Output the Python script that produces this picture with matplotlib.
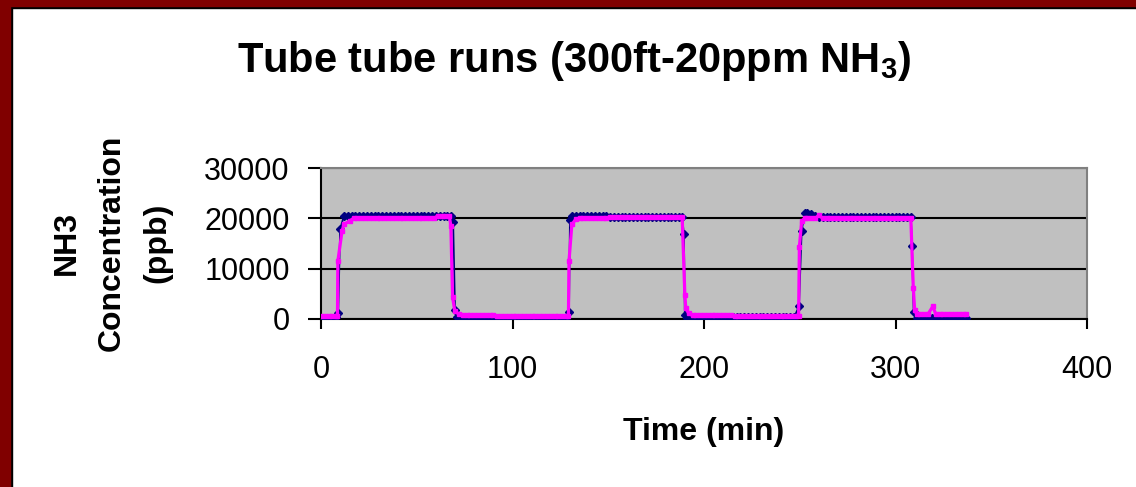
import matplotlib
matplotlib.use('Agg')
import matplotlib.pyplot as plt
from matplotlib.patches import Rectangle

plt.rcParams['font.family'] = ['Liberation Sans', 'DejaVu Sans']
plt.rcParams['mathtext.fontset'] = 'custom'
plt.rcParams['mathtext.rm'] = 'Liberation Sans'
plt.rcParams['mathtext.bf'] = 'Liberation Sans:bold'
plt.rcParams['mathtext.default'] = 'bf'

# --- tube run 1 (0-128 min) ---
t1_navy = [0, 2, 4, 6, 8, 9, 10,
           12, 14, 16, 18, 20, 22, 24, 26, 28, 30, 32, 34, 36, 38, 40,
           42, 44, 46, 48, 50, 52, 54, 56, 58, 60, 62, 64, 66, 68,
           69, 70, 71,
           72, 74, 76, 78, 80, 82, 84, 86, 88,
           90, 92, 94, 96, 98, 100, 102, 104, 106, 108,
           110, 112, 114, 116, 118, 120, 122, 124, 126, 128]
c1_navy = [200, 200, 200, 200, 300, 1200, 17900,
           20500, 20500, 20400, 20500, 20500, 20400, 20500, 20500, 20500, 20400, 20500, 20500, 20500, 20400, 20500,
           20500, 20500, 20400, 20500, 20500, 20500, 20400, 20500, 20500, 20500, 20400, 20500, 20500, 20500,
           19300, 1700, 300,
           100, 0, 100, 0, 100, 0, 100, 100, 100,
           200, 200, 200, 200, 200, 200, 200, 200, 200, 200,
           200, 200, 200, 200, 200, 200, 200, 200, 200, 200]

t1_pink = [0, 2, 4, 6, 8, 8.6, 8.8, 11, 12, 15, 17,
           19, 21, 23, 25, 27, 29, 31, 33, 35, 37, 39,
           41, 43, 45, 47, 49, 51, 53, 55, 57, 59,
           61, 63, 65, 67,
           67.8, 68.7, 69.9, 72,
           74, 76, 78, 80, 82, 84, 86, 88, 90,
           92, 94, 96, 98, 100, 102, 104, 106, 108, 110,
           112, 114, 116, 118, 120, 122, 124, 126, 128]
c1_pink = [500, 500, 500, 500, 500, 600, 11500, 17500, 18800, 19500, 20000,
           20000, 20000, 20000, 20000, 20000, 20000, 20000, 20000, 20000, 20000, 20000,
           20000, 20000, 20000, 20000, 20000, 20000, 20000, 20000, 20000, 20000,
           20500, 20500, 20500, 20500,
           18500, 4400, 1500, 1000,
           800, 800, 800, 800, 800, 800, 800, 800, 800,
           500, 500, 500, 500, 500, 500, 500, 500, 500, 500,
           500, 500, 500, 500, 500, 500, 500, 500, 500]

# --- tube run 2 (129-248 min) ---
t2_navy = [129.5, 130, 131,
           133, 135, 137, 139, 141, 143, 145, 147, 149,
           151, 153, 155, 157, 159, 161, 163, 165, 167, 169,
           171, 173, 175, 177, 179, 181, 183, 185, 187,
           188.6, 189.5, 190, 191,
           193, 195, 197, 199, 201, 203, 205, 207, 209, 211, 213,
           215, 217, 219, 221, 223, 225, 227, 229, 231,
           233, 235, 237, 239, 241, 243, 245, 247]
c2_navy = [1300, 19700, 20500,
           20500, 20500, 20400, 20500, 20500, 20500, 20400, 20500, 20400,
           20200, 20200, 20300, 20200, 20200, 20200, 20300, 20200, 20200, 20200,
           20300, 20200, 20200, 20200, 20300, 20200, 20200, 20200, 20300,
           20300, 16800, 700, 100,
           0, 100, 0, 100, 0, 100, 0, 100, 0, 100, 0,
           300, 300, 300, 300, 300, 300, 300, 300, 300,
           300, 300, 300, 300, 300, 300, 300, 300]

t2_pink = [129.2, 129.5, 131, 133,
           135, 137, 139, 141, 143, 145, 147, 149,
           151, 153, 155, 157, 159, 161, 163, 165, 167, 169,
           171, 173, 175, 177, 179, 181, 183, 185, 187,
           188.6, 190, 190.5, 192,
           194, 196, 198, 200, 202, 204, 206, 208, 210, 212, 214,
           216, 218, 220, 222, 224, 226, 228, 230, 232,
           234, 236, 238, 240, 242, 244, 246, 248]
c2_pink = [500, 11500, 18800, 19800,
           20000, 20000, 20000, 20000, 20000, 20000, 20000, 20000,
           20300, 20300, 20300, 20300, 20300, 20300, 20300, 20300, 20300, 20300,
           20300, 20300, 20300, 20300, 20300, 20300, 20300, 20300, 20300,
           20200, 4800, 2100, 1100,
           700, 700, 700, 700, 700, 700, 700, 700, 700, 700, 700,
           500, 500, 500, 500, 500, 500, 500, 500, 500,
           500, 500, 500, 500, 500, 500, 500, 500]

# --- tube run 3 (249-338 min) ---
t3_navy = [249.6, 251, 252.5, 254, 256, 258,
           260, 262, 264, 266, 268, 270, 272, 274, 276, 278, 280, 282, 284,
           286, 288, 290, 292, 294, 296, 298, 300, 302, 304, 306, 308,
           308.6, 309.5, 311,
           313, 315, 317, 319, 321, 323, 325, 327, 329, 331, 333, 335, 337]
c3_navy = [2500, 17500, 21000, 21100, 20900, 20400,
           20300, 20300, 20200, 20300, 20300, 20300, 20200, 20300, 20300, 20300, 20200, 20300, 20300,
           20300, 20200, 20300, 20300, 20300, 20200, 20300, 20300, 20300, 20200, 20300, 20300,
           14600, 1300, 200,
           100, 0, 100, 100, 0, 100, 100, 0, 100, 100, 0, 100, 100]

t3_pink = [249.4, 249.8, 251, 252.7, 254, 256, 258, 260, 262,
           264, 266, 268, 270, 272, 274, 276, 278, 280, 282, 284,
           286, 288, 290, 292, 294, 296, 298, 300, 302, 304, 306, 308,
           309.3, 310, 311, 313, 315, 317, 319.5, 321,
           323, 325, 327, 329, 331, 333, 335, 337]
c3_pink = [500, 14300, 19500, 20000, 20000, 20000, 20000, 20600, 20000,
           20000, 20000, 20000, 20000, 20000, 20000, 20000, 20000, 20000, 20000, 20000,
           20000, 20000, 20000, 20000, 20000, 20000, 20000, 20000, 20000, 20000, 20000, 20000,
           6100, 1800, 1000, 1000, 1000, 1000, 2500, 1000,
           1000, 1000, 1000, 1000, 1000, 1000, 1000, 1000]

time_navy = t1_navy + t2_navy + t3_navy
conc_navy = c1_navy + c2_navy + c3_navy
time_pink = t1_pink + t2_pink + t3_pink
conc_pink = c1_pink + c2_pink + c3_pink

x_ticks = [0, 100, 200, 300, 400]
y_ticks = [0, 10000, 20000, 30000]

W, H = 1136, 487
fig = plt.figure(figsize=(W / 100, H / 100), dpi=100)
fig.patch.set_facecolor('white')

# dark red frame on the left and top edges, with a thin black inner line
fig.patches.append(Rectangle((0, 0), 12 / W, 1, transform=fig.transFigure, color='black', zorder=0))
fig.patches.append(Rectangle((0, 1 - 8 / H), 1, 8 / H, transform=fig.transFigure, color='black', zorder=0))
fig.patches.append(Rectangle((0, 0), 10 / W, 1, transform=fig.transFigure, color='#800000', zorder=1))
fig.patches.append(Rectangle((0, 1 - 6 / H), 1, 6 / H, transform=fig.transFigure, color='#800000', zorder=1))

ax = fig.add_axes([321 / W, 168 / H, 766 / W, 151 / H])
ax.set_facecolor('#C0C0C0')
ax.plot(time_navy, conc_navy, color='#000080', lw=1.3, marker='D', ms=4, zorder=3)
ax.plot(time_pink, conc_pink, color='#FF00FF', lw=2.3, marker='s', ms=3.4, zorder=4)

ax.set_xlim(0, 400)
ax.set_ylim(0, 30000)
ax.set_xticks(x_ticks)
ax.set_yticks(y_ticks)
ax.yaxis.grid(True, color='black', lw=1.5)
ax.set_axisbelow(True)
for side in ['left', 'bottom']:
    ax.spines[side].set_color('black')
    ax.spines[side].set_linewidth(1.5)
for side in ['top', 'right']:
    ax.spines[side].set_color('#808080')
    ax.spines[side].set_linewidth(1.5)
ax.tick_params(axis='both', direction='out', width=1.5, labelsize=22, colors='black')
ax.tick_params(axis='y', length=9.5, pad=13)
ax.tick_params(axis='x', length=7, pad=19)

fig.text(574 / W, 1 - 72 / H, 'Tube tube runs (300ft-20ppm NH$_3$)',
         ha='center', va='baseline', fontsize=30, fontweight='bold')
fig.text(704 / W, 1 - 440 / H, 'Time (min)', ha='center', va='baseline',
         fontsize=23, fontweight='bold')
fig.text(112 / W, 1 - 243 / H, 'NH3\nConcentration\n(ppb)', rotation=90,
         ha='center', va='center', fontsize=23, fontweight='bold', linespacing=1.65)

fig.savefig('out.png', dpi=100)
